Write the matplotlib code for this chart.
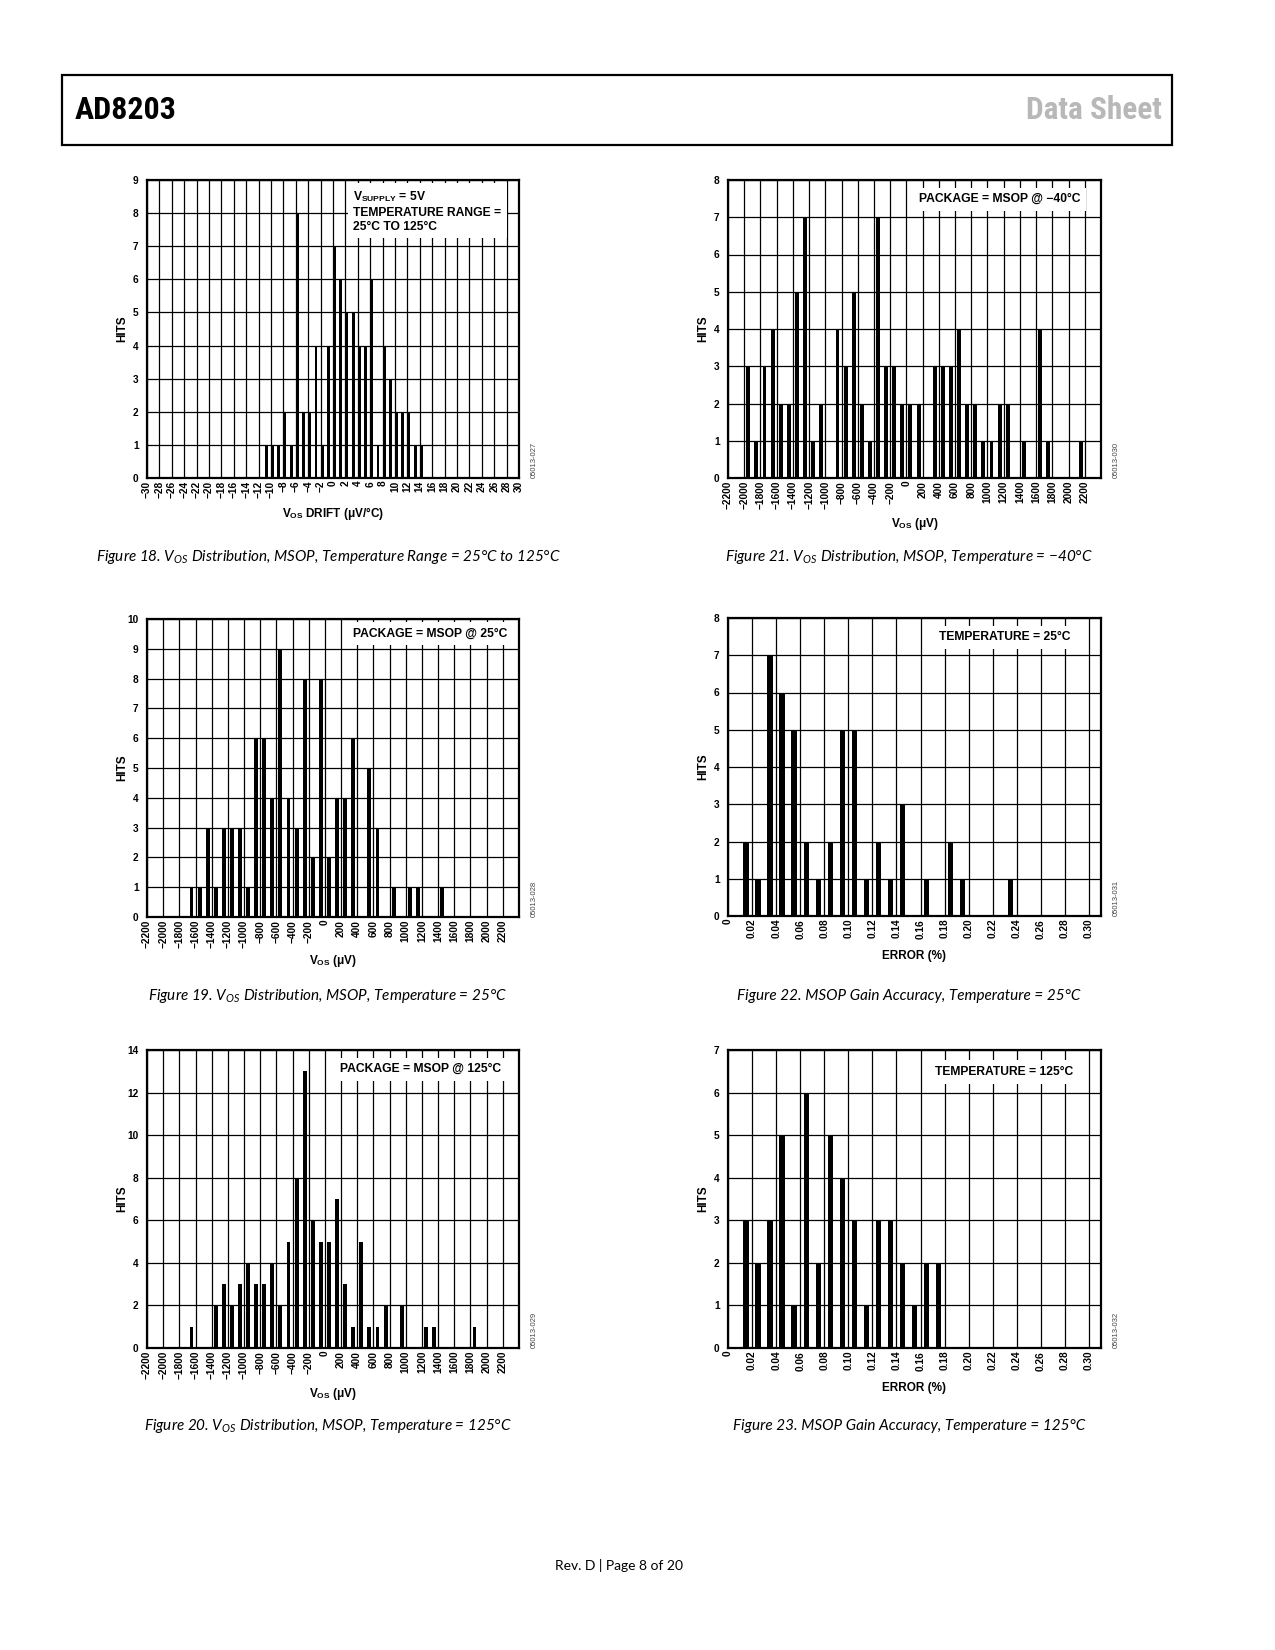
import matplotlib
matplotlib.use("Agg")
import numpy as np
import matplotlib.pyplot as plt
from matplotlib.patches import Rectangle

plt.rcParams['mathtext.fontset'] = 'custom'
plt.rcParams['mathtext.rm'] = 'Liberation Sans:bold'
plt.rcParams['mathtext.bf'] = 'Liberation Sans:bold'
plt.rcParams['mathtext.sf'] = 'Liberation Sans:bold'
plt.rcParams['mathtext.it'] = 'Lato:italic'

W, H = 1275, 1650

# Figure 18 - Vos drift (uV/C)
drift_x = [-10.75, -9.75, -8.75, -7.75, -6.75, -5.75, -4.75, -3.75, -2.75, -1.75,
           -0.75, 0.25, 1.25, 2.25, 3.25, 4.25, 5.25, 6.25, 7.25, 8.25,
           9.25, 10.25, 11.25, 12.25, 13.25, 14.25]
drift_hits = [1, 1, 1, 2, 1, 8, 2, 2, 4, 1, 4, 7, 6, 5, 5, 4, 4, 6, 1, 4, 3, 2, 2, 2, 1, 1]

# Figure 21 - Vos, MSOP @ -40C
m40_x = [-1950, -1850, -1750, -1650, -1550, -1450, -1350, -1250, -1150, -1050,
         -850, -750, -650, -550, -450, -350, -250, -150, -50, 50,
         150, 350, 450, 550, 650, 750, 850, 950, 1050, 1150,
         1250, 1450, 1650, 1750, 2150]
m40_hits = [3, 1, 3, 4, 2, 2, 5, 7, 1, 2, 4, 3, 5, 2, 1, 7, 3, 3, 2, 2,
            2, 3, 3, 3, 4, 2, 2, 1, 1, 2, 2, 1, 4, 1, 1]

# Figure 19 - Vos, MSOP @ 25C
p25_x = [-1650, -1550, -1450, -1350, -1250, -1150, -1050, -950, -850, -750,
         -650, -550, -450, -350, -250, -150, -50, 50, 150, 250,
         350, 550, 650, 850, 1050, 1150, 1450]
p25_hits = [1, 1, 3, 1, 3, 3, 3, 1, 6, 6, 4, 9, 4, 3, 8, 2, 8, 2, 4, 4,
            6, 5, 3, 1, 1, 1, 1]

# Figure 20 - Vos, MSOP @ 125C
p125_x = [-1650, -1350, -1250, -1150, -1050, -950, -850, -750, -650, -550,
          -450, -350, -250, -150, -50, 50, 150, 250, 350, 450,
          550, 650, 750, 950, 1250, 1350, 1850]
p125_hits = [1, 2, 3, 2, 3, 4, 3, 3, 4, 2, 5, 8, 13, 6, 5, 5, 7, 3, 1, 5,
             1, 1, 2, 2, 1, 1, 1]

# Figure 22 - gain error @ 25C
g25_x = [0.015, 0.025, 0.035, 0.045, 0.055, 0.065, 0.075, 0.085, 0.095, 0.105,
         0.115, 0.125, 0.135, 0.145, 0.165, 0.185, 0.195, 0.235]
g25_hits = [2, 1, 7, 6, 5, 2, 1, 2, 5, 5, 1, 2, 1, 3, 1, 2, 1, 1]

# Figure 23 - gain error @ 125C
g125_x = [0.015, 0.025, 0.035, 0.045, 0.055, 0.065, 0.075, 0.085, 0.095, 0.105,
          0.115, 0.125, 0.135, 0.145, 0.155, 0.165, 0.175]
g125_hits = [3, 2, 3, 5, 1, 6, 2, 5, 4, 3, 1, 3, 3, 2, 1, 2, 2]

vos_ticks = list(range(-2200, 2201, 200))
drift_ticks = list(range(-30, 31, 2))
err_ticks = [round(0.02 * i, 2) for i in range(16)]


def minus(v):
    return str(v).replace('-', '\u2212')


fig = plt.figure(figsize=(W / 100, H / 100), dpi=100)


def px_box(x0, y0, x1, y1):
    return [x0 / W, 1 - y1 / H, (x1 - x0) / W, (y1 - y0) / H]


def histo(rect, xs, hits, width, xlim, xticks, xlabels, ytop, ystep,
          xlabel, xlabel_off, note, note_xy, note_ha, code):
    ax = fig.add_axes(px_box(*rect))
    ax.bar(xs, hits, width=width, color='black', zorder=2)
    ax.set_xlim(*xlim)
    ax.set_ylim(0, ytop)
    ax.set_xticks(xticks)
    ax.set_xticklabels(xlabels, rotation=90, fontsize=7.3, fontweight='bold',
                       family='Liberation Sans', va='top')
    yt = list(range(0, ytop + 1, ystep))
    ax.set_yticks(yt)
    ax.set_yticklabels([str(v) for v in yt], fontsize=7.3, fontweight='bold',
                       family='Liberation Sans')
    ax.tick_params(length=0)
    ax.tick_params(axis='x', pad=2)
    ax.tick_params(axis='y', pad=6)
    ax.grid(True, color='black', linewidth=0.9)
    ax.set_axisbelow(True)
    for s in ax.spines.values():
        s.set_linewidth(1.6)
    hpx = rect[3] - rect[1]
    wpx = rect[2] - rect[0]
    ax.text(-25 / wpx, 0.5, 'HITS', transform=ax.transAxes, rotation=90,
            ha='center', va='center', fontsize=8.5, fontweight='bold',
            family='Liberation Sans')
    ax.text(0.5, -xlabel_off / hpx, xlabel, transform=ax.transAxes,
            ha='center', va='center', fontsize=8.5, fontweight='bold',
            family='Liberation Sans')
    ax.text(note_xy[0], note_xy[1], note, transform=ax.transAxes, ha=note_ha,
            va='center', fontsize=8.7, fontweight='bold', family='Liberation Sans',
            linespacing=1.25, zorder=4,
            bbox=dict(facecolor='white', edgecolor='none', pad=4))
    ax.text(1 + 15 / wpx, 0, code, transform=ax.transAxes, rotation=90,
            ha='center', va='bottom', fontsize=5.5, color='#444444',
            family='Liberation Sans')
    return ax


vos_label = 'V$_{\\mathrm{OS}}$ (\u03bcV)'
err_label = 'ERROR (%)'

histo((147, 180, 519, 478), drift_x, drift_hits, 0.45, (-30, 30), drift_ticks,
      [minus(v) for v in drift_ticks], 9, 1,
      'V$_{\\mathrm{OS}}$ DRIFT (\u03bcV/\u00b0C)', 35,
      'V$_{\\mathrm{SUPPLY}}$ = 5V\nTEMPERATURE RANGE =\n25\u00b0C TO 125\u00b0C',
      (0.555, 0.895), 'left', '05013-027')

histo((728, 180, 1101, 478), m40_x, m40_hits, 48, (-2200, 2400), vos_ticks,
      [minus(v) for v in vos_ticks], 8, 1, vos_label, 46,
      'PACKAGE = MSOP @ \u221240\u00b0C', (0.729, 0.936), 'center', '05013-030')

histo((147, 619, 519, 917), p25_x, p25_hits, 48, (-2200, 2400), vos_ticks,
      [minus(v) for v in vos_ticks], 10, 1, vos_label, 44,
      'PACKAGE = MSOP @ 25\u00b0C', (0.762, 0.952), 'center', '05013-028')

histo((728, 618, 1101, 916), g25_x, g25_hits, 0.0045, (0, 0.31), err_ticks,
      ['0'] + ['%.2f' % v for v in err_ticks[1:]], 8, 1, err_label, 40,
      'TEMPERATURE = 25\u00b0C', (0.743, 0.936), 'center', '05013-031')

histo((147, 1050, 519, 1348), p125_x, p125_hits, 48, (-2200, 2400), vos_ticks,
      [minus(v) for v in vos_ticks], 14, 2, vos_label, 46,
      'PACKAGE = MSOP @ 125\u00b0C', (0.736, 0.936), 'center', '05013-029')

histo((728, 1050, 1101, 1348), g125_x, g125_hits, 0.0045, (0, 0.31), err_ticks,
      ['0'] + ['%.2f' % v for v in err_ticks[1:]], 7, 1, err_label, 40,
      'TEMPERATURE = 125\u00b0C', (0.741, 0.926), 'center', '05013-032')

# captions
captions = [
    (328, 557, 'Figure 18. V$_{OS}$ Distribution, MSOP, Temperature Range = 25\u00b0C to 125\u00b0C'),
    (909, 557, 'Figure 21. V$_{OS}$ Distribution, MSOP, Temperature = \u221240\u00b0C'),
    (328, 996, 'Figure 19. V$_{OS}$ Distribution, MSOP, Temperature = 25\u00b0C'),
    (909, 996, 'Figure 22. MSOP Gain Accuracy, Temperature = 25\u00b0C'),
    (328, 1426, 'Figure 20. V$_{OS}$ Distribution, MSOP, Temperature = 125\u00b0C'),
    (909, 1426, 'Figure 23. MSOP Gain Accuracy, Temperature = 125\u00b0C'),
]
for cx, cy, txt in captions:
    fig.text(cx / W, 1 - cy / H, txt, ha='center', va='center', fontsize=11,
             style='italic', family='Lato')

# header
head_font = ['Roboto Condensed', 'Liberation Sans Narrow', 'Lato']
fig.add_artist(Rectangle((62 / W, 1 - 145 / H), (1172 - 62) / W, 70 / H,
                         transform=fig.transFigure, fill=False, lw=1.6, ec='black'))
fig.text(75 / W, 1 - 110 / H, 'AD8203', ha='left', va='center', fontsize=23,
         fontweight='bold', family=head_font)
fig.text(1162 / W, 1 - 110 / H, 'Data Sheet', ha='right', va='center', fontsize=22.5,
         fontweight='bold', color='#b8b8b8', family=head_font)

fig.text(619 / W, 1 - 1565 / H, 'Rev. D | Page 8 of 20', ha='center', va='center',
         fontsize=10, family='Lato')

fig.savefig('out.png', dpi=100)
